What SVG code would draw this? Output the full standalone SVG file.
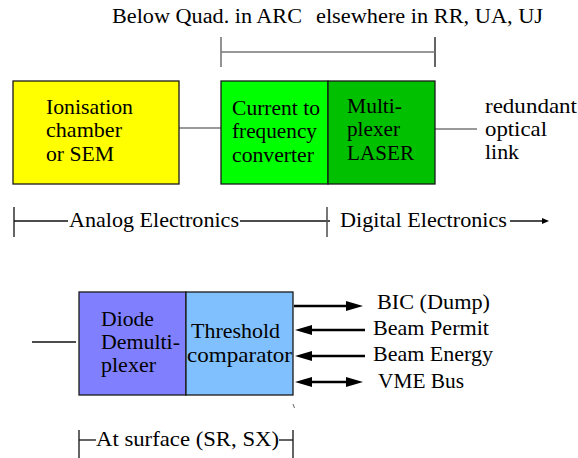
<svg xmlns="http://www.w3.org/2000/svg" width="578" height="458" viewBox="0 0 578 458">
<defs>
<marker id="head" markerUnits="userSpaceOnUse" markerWidth="18" markerHeight="11" refX="2" refY="5" orient="auto-start-reverse" viewBox="0 0 18 10">
<path d="M0,0 L17,5 L0,10 z" fill="#000"/>
</marker>
<marker id="small" markerUnits="userSpaceOnUse" markerWidth="8" markerHeight="6" refX="1" refY="3" orient="auto" viewBox="0 0 8 6">
<path d="M0,0 L7,3 L0,6 z" fill="#000"/>
</marker>
</defs>

<g id="top-labels">
<text font-family="Liberation Serif" font-size="20" x="112" y="23" textLength="190" lengthAdjust="spacingAndGlyphs">Below Quad. in ARC</text>
<text font-family="Liberation Serif" font-size="20" x="316" y="23" textLength="227" lengthAdjust="spacingAndGlyphs">elsewhere in RR, UA, UJ</text>
</g>

<g id="connectors" fill="none">
<line stroke="#777" stroke-width="1.6" x1="221" y1="37" x2="221" y2="67"/>
<line stroke="#111" stroke-width="1.3" x1="435" y1="37" x2="435" y2="67"/>
<line stroke="#777" stroke-width="1.6" x1="221" y1="52" x2="435" y2="52"/>
<line stroke="#777" stroke-width="1.6" x1="179" y1="128" x2="221" y2="128"/>
<line stroke="#777" stroke-width="1.6" x1="435" y1="129" x2="477" y2="129"/>
<line stroke="#111" stroke-width="1.3" x1="14" y1="207" x2="14" y2="237"/>
<line stroke="#111" stroke-width="1.3" x1="14" y1="221" x2="68" y2="221"/>
<line stroke="#111" stroke-width="1.3" x1="240" y1="221" x2="330" y2="221"/>
<line stroke="#555" stroke-width="1.6" x1="327" y1="207" x2="327" y2="237"/>
<line stroke="#111" stroke-width="1.3" x1="510" y1="221" x2="543" y2="221" marker-end="url(#small)"/>
<line stroke="#111" stroke-width="1.3" x1="32" y1="342" x2="76" y2="342"/>
<line stroke="#000" stroke-width="2.6" x1="294" y1="306" x2="348" y2="306" marker-end="url(#head)"/>
<line stroke="#000" stroke-width="2.6" x1="365" y1="330" x2="310" y2="330" marker-end="url(#head)"/>
<line stroke="#000" stroke-width="2.6" x1="365" y1="356" x2="310" y2="356" marker-end="url(#head)"/>
<line stroke="#000" stroke-width="2.6" x1="310" y1="382" x2="348" y2="382" marker-start="url(#head)" marker-end="url(#head)"/>
<line stroke="#666" stroke-width="1" x1="293" y1="404" x2="294.5" y2="408"/>
<line stroke="#111" stroke-width="1.3" x1="79" y1="430" x2="79" y2="458"/>
<line stroke="#111" stroke-width="1.3" x1="293" y1="430" x2="293" y2="458"/>
<line stroke="#111" stroke-width="1.3" x1="79" y1="440" x2="96" y2="440"/>
<line stroke="#111" stroke-width="1.3" x1="279" y1="440" x2="293" y2="440"/>
</g>

<g id="node-ionisation">
<rect stroke="#1a1a1a" stroke-width="1.3" x="13" y="81" width="166" height="103" fill="#ffff00"/>
<text font-family="Liberation Serif" font-size="21" x="46" y="114" textLength="87" lengthAdjust="spacingAndGlyphs">Ionisation</text>
<text font-family="Liberation Serif" font-size="21" x="46" y="137" textLength="76" lengthAdjust="spacingAndGlyphs">chamber</text>
<text font-family="Liberation Serif" font-size="21" x="46" y="161" textLength="68" lengthAdjust="spacingAndGlyphs">or SEM</text>
</g>

<g id="node-ctf">
<rect stroke="#1a1a1a" stroke-width="1.3" x="221" y="81" width="107" height="103" fill="#00ff00"/>
<text font-family="Liberation Serif" font-size="21" x="232" y="115" textLength="88" lengthAdjust="spacingAndGlyphs">Current to</text>
<text font-family="Liberation Serif" font-size="21" x="232" y="138" textLength="85" lengthAdjust="spacingAndGlyphs">frequency</text>
<text font-family="Liberation Serif" font-size="21" x="232" y="162" textLength="82" lengthAdjust="spacingAndGlyphs">converter</text>
</g>

<g id="node-mux">
<rect stroke="#1a1a1a" stroke-width="1.3" x="328" y="81" width="107" height="103" fill="#00c000"/>
<text font-family="Liberation Serif" font-size="21" x="347" y="113" textLength="55" lengthAdjust="spacingAndGlyphs">Multi-</text>
<text font-family="Liberation Serif" font-size="21" x="347" y="136" textLength="53" lengthAdjust="spacingAndGlyphs">plexer</text>
<text font-family="Liberation Serif" font-size="21" x="347" y="160" textLength="67" lengthAdjust="spacingAndGlyphs">LASER</text>
</g>

<g id="label-optical">
<text font-family="Liberation Serif" font-size="21" x="485" y="113" textLength="92" lengthAdjust="spacingAndGlyphs">redundant</text>
<text font-family="Liberation Serif" font-size="21" x="485" y="136" textLength="62" lengthAdjust="spacingAndGlyphs">optical</text>
<text font-family="Liberation Serif" font-size="21" x="485" y="159" textLength="34" lengthAdjust="spacingAndGlyphs">link</text>
</g>

<g id="label-electronics">
<text font-family="Liberation Serif" font-size="21" x="69" y="227" textLength="170" lengthAdjust="spacingAndGlyphs">Analog Electronics</text>
<text font-family="Liberation Serif" font-size="21" x="340" y="227" textLength="167" lengthAdjust="spacingAndGlyphs">Digital Electronics</text>
</g>

<g id="node-demux">
<rect stroke="#1a1a1a" stroke-width="1.3" x="79" y="292" width="107" height="103" fill="#8080ff"/>
<text font-family="Liberation Serif" font-size="21" x="101" y="326" textLength="53" lengthAdjust="spacingAndGlyphs">Diode</text>
<text font-family="Liberation Serif" font-size="21" x="101" y="349" textLength="79" lengthAdjust="spacingAndGlyphs">Demulti-</text>
<text font-family="Liberation Serif" font-size="21" x="101" y="372" textLength="55" lengthAdjust="spacingAndGlyphs">plexer</text>
</g>

<g id="node-threshold">
<rect stroke="#1a1a1a" stroke-width="1.3" x="186" y="292" width="107" height="103" fill="#80c0ff"/>
<text font-family="Liberation Serif" font-size="21" x="191" y="338" textLength="89" lengthAdjust="spacingAndGlyphs">Threshold</text>
<text font-family="Liberation Serif" font-size="21" x="187" y="362" textLength="105" lengthAdjust="spacingAndGlyphs">comparator</text>
</g>

<g id="signal-labels">
<text font-family="Liberation Serif" font-size="21" x="377" y="309" textLength="113" lengthAdjust="spacingAndGlyphs">BIC (Dump)</text>
<text font-family="Liberation Serif" font-size="21" x="373" y="335" textLength="116" lengthAdjust="spacingAndGlyphs">Beam Permit</text>
<text font-family="Liberation Serif" font-size="21" x="373" y="361" textLength="120" lengthAdjust="spacingAndGlyphs">Beam Energy</text>
<text font-family="Liberation Serif" font-size="21" x="378" y="388" textLength="86" lengthAdjust="spacingAndGlyphs">VME Bus</text>
</g>

<g id="label-surface">
<text font-family="Liberation Serif" font-size="21" x="96" y="446" textLength="183" lengthAdjust="spacingAndGlyphs">At surface (SR, SX)</text>
</g>
</svg>
